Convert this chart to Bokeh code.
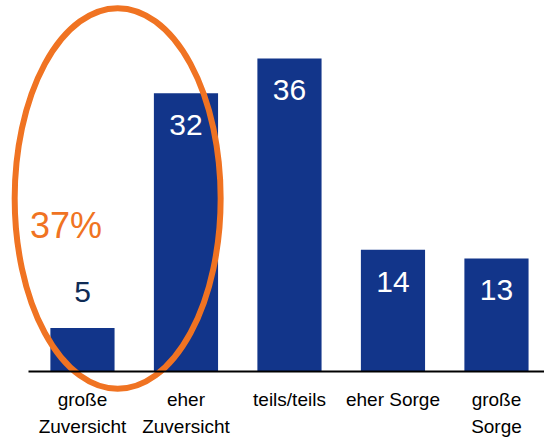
from bokeh.plotting import figure
from bokeh.models import Range1d, Label, FixedTicker
from bokeh.embed import file_html
from bokeh.resources import INLINE

categories = ["große\nZuversicht", "eher\nZuversicht", "teils/teils", "eher Sorge", "große\nSorge"]
values = [5, 32, 36, 14, 13]
value_labels = ["5", "32", "36", "14", "13"]
highlight_text = "37%"

BAR = "#12358A"
ORANGE = "#F07322"
DARK = "#0F2B55"
FONT = "Liberation Sans"

xs = list(range(len(categories)))

p = figure(width=544, height=438, output_backend="svg", toolbar_location=None,
           x_range=Range1d(-0.792, 4.464), y_range=Range1d(-7.71, 42.67),
           min_border=0, min_border_left=0, min_border_right=0,
           min_border_top=0, min_border_bottom=0)
p.outline_line_color = None
p.grid.visible = False
p.yaxis.visible = False
p.background_fill_color = "white"

p.vbar(x=xs, top=values, width=0.62, color=BAR, line_color=None)

# value labels
inside = [i for i, v in enumerate(values) if v >= 10]
outside = [i for i, v in enumerate(values) if v < 10]
p.text(x=[xs[i] for i in inside], y=[values[i] for i in inside],
       text=[value_labels[i] for i in inside], text_color="white",
       text_font={"value": FONT}, text_font_size="30px",
       text_align="center", text_baseline="middle", y_offset=32)
p.text(x=[xs[i] for i in outside], y=[values[i] for i in outside],
       text=[value_labels[i] for i in outside], text_color=DARK,
       text_font={"value": FONT}, text_font_size="30px",
       text_align="center", text_baseline="middle", y_offset=-36)

# highlight ellipse
p.ellipse(x=[0.34], y=[19.9], width=1.99, height=43.8,
          fill_color=None, line_color=ORANGE, line_width=6)
p.add_layout(Label(x=-0.16, y=16.8, text=highlight_text, text_color=ORANGE,
                   text_font=FONT, text_font_size="36px",
                   text_align="center", text_baseline="middle"))

ax = p.xaxis[0]
ax.fixed_location = 0
ax.bounds = (-0.52, 4.6)
ax.ticker = FixedTicker(ticks=xs)
ax.major_label_overrides = {i: c for i, c in enumerate(categories)}
ax.major_tick_line_color = None
ax.minor_tick_line_color = None
ax.major_tick_out = 0
ax.major_tick_in = 0
ax.axis_line_color = "black"
ax.axis_line_width = 2
ax.major_label_standoff = 18
ax.major_label_text_font = FONT
ax.major_label_text_font_size = "19px"
ax.major_label_text_color = "black"
ax.major_label_text_line_height = 1.25
ax.major_label_orientation = "horizontal"

open("out.html", "w").write(file_html(p, INLINE))
